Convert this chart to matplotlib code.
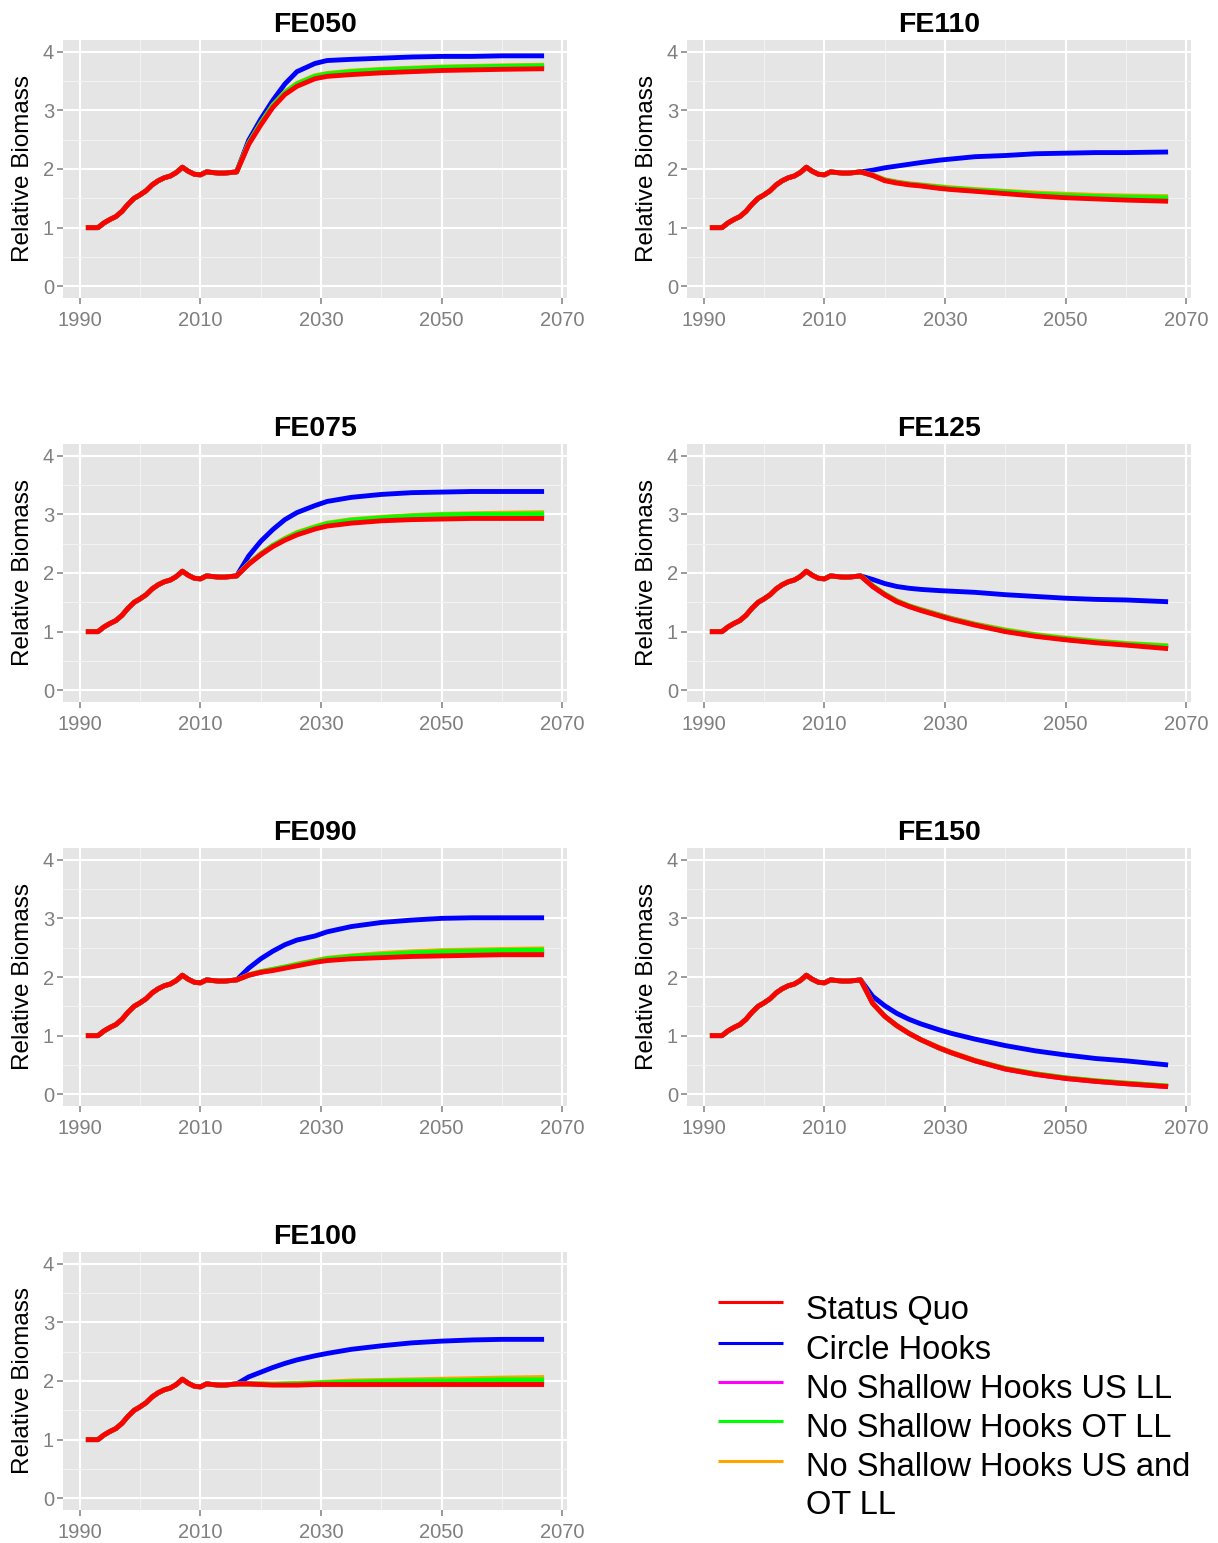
import matplotlib
matplotlib.use("Agg")
import matplotlib.pyplot as plt
from matplotlib.lines import Line2D

plt.rcParams['font.family'] = ['Liberation Sans', 'DejaVu Sans']

# ---------------- data ----------------
hist_years = list(range(1991, 2017))
hist_values = [1.00, 1.00, 1.00, 1.08, 1.14, 1.19, 1.28, 1.40, 1.50, 1.56,
               1.63, 1.73, 1.80, 1.85, 1.88, 1.94, 2.03, 1.96, 1.91, 1.90,
               1.95, 1.94, 1.93, 1.93, 1.94, 1.95]

proj_years = [2018, 2020, 2022, 2024, 2026, 2029, 2031, 2035, 2040, 2045, 2050, 2055, 2060, 2067]

scenarios = ["Status Quo", "Circle Hooks", "No Shallow Hooks US LL",
             "No Shallow Hooks OT LL", "No Shallow Hooks US and\nOT LL"]
scenario_colors = ["#FF0000", "#0000FF", "#FF00FF", "#00FF00", "#FFA500"]

panel_names = ["FE050", "FE110", "FE075", "FE125", "FE090", "FE150", "FE100"]

# FE050
fe050_sq = [2.42, 2.75, 3.05, 3.27, 3.41, 3.54, 3.58, 3.61, 3.64, 3.66, 3.68, 3.69, 3.70, 3.71]
fe050_ch = [2.49, 2.85, 3.17, 3.45, 3.66, 3.80, 3.85, 3.87, 3.89, 3.91, 3.92, 3.92, 3.93, 3.93]
fe050_us = [2.43, 2.77, 3.07, 3.29, 3.44, 3.57, 3.61, 3.64, 3.67, 3.69, 3.71, 3.72, 3.73, 3.74]
fe050_ot = [2.44, 2.78, 3.08, 3.30, 3.45, 3.58, 3.62, 3.66, 3.69, 3.71, 3.73, 3.74, 3.75, 3.76]
fe050_both = [2.44, 2.78, 3.09, 3.31, 3.46, 3.59, 3.63, 3.67, 3.70, 3.72, 3.74, 3.75, 3.76, 3.77]
# FE110
fe110_sq = [1.89, 1.80, 1.76, 1.73, 1.71, 1.67, 1.65, 1.62, 1.58, 1.54, 1.51, 1.49, 1.47, 1.45]
fe110_ch = [1.98, 2.02, 2.05, 2.08, 2.11, 2.15, 2.17, 2.21, 2.23, 2.26, 2.27, 2.28, 2.28, 2.29]
fe110_us = [1.89, 1.81, 1.77, 1.74, 1.72, 1.68, 1.66, 1.63, 1.59, 1.56, 1.53, 1.51, 1.49, 1.48]
fe110_ot = [1.89, 1.81, 1.77, 1.74, 1.72, 1.69, 1.67, 1.64, 1.61, 1.57, 1.55, 1.53, 1.52, 1.51]
fe110_both = [1.90, 1.82, 1.78, 1.75, 1.73, 1.70, 1.68, 1.65, 1.62, 1.59, 1.57, 1.55, 1.54, 1.53]
# FE075
fe075_sq = [2.15, 2.31, 2.45, 2.56, 2.65, 2.75, 2.80, 2.85, 2.89, 2.91, 2.92, 2.93, 2.93, 2.93]
fe075_ch = [2.29, 2.54, 2.74, 2.91, 3.03, 3.15, 3.22, 3.29, 3.34, 3.37, 3.38, 3.39, 3.39, 3.39]
fe075_us = [2.15, 2.32, 2.46, 2.57, 2.67, 2.77, 2.83, 2.88, 2.92, 2.94, 2.96, 2.97, 2.97, 2.98]
fe075_ot = [2.16, 2.32, 2.47, 2.58, 2.68, 2.78, 2.84, 2.90, 2.94, 2.97, 2.99, 3.00, 3.00, 3.01]
fe075_both = [2.16, 2.33, 2.47, 2.59, 2.69, 2.79, 2.85, 2.91, 2.95, 2.98, 3.00, 3.01, 3.02, 3.03]
# FE125
fe125_sq = [1.77, 1.63, 1.51, 1.43, 1.36, 1.27, 1.21, 1.11, 1.00, 0.92, 0.86, 0.81, 0.77, 0.71]
fe125_ch = [1.89, 1.82, 1.77, 1.74, 1.72, 1.70, 1.69, 1.67, 1.63, 1.60, 1.57, 1.55, 1.54, 1.51]
fe125_us = [1.77, 1.63, 1.52, 1.43, 1.37, 1.28, 1.22, 1.12, 1.01, 0.93, 0.87, 0.82, 0.78, 0.73]
fe125_ot = [1.78, 1.64, 1.52, 1.44, 1.37, 1.28, 1.22, 1.12, 1.02, 0.94, 0.88, 0.83, 0.79, 0.75]
fe125_both = [1.78, 1.64, 1.53, 1.44, 1.38, 1.29, 1.23, 1.13, 1.03, 0.95, 0.89, 0.84, 0.80, 0.76]
# FE090
fe090_sq = [2.03, 2.08, 2.11, 2.15, 2.19, 2.25, 2.28, 2.31, 2.33, 2.35, 2.36, 2.37, 2.38, 2.38]
fe090_ch = [2.15, 2.31, 2.44, 2.55, 2.63, 2.70, 2.77, 2.86, 2.93, 2.97, 3.00, 3.01, 3.01, 3.01]
fe090_us = [2.03, 2.08, 2.12, 2.16, 2.20, 2.26, 2.30, 2.33, 2.36, 2.38, 2.40, 2.41, 2.42, 2.43]
fe090_ot = [2.03, 2.09, 2.13, 2.17, 2.21, 2.27, 2.31, 2.35, 2.38, 2.41, 2.43, 2.44, 2.45, 2.46]
fe090_both = [2.04, 2.09, 2.13, 2.17, 2.22, 2.28, 2.32, 2.36, 2.40, 2.43, 2.45, 2.46, 2.47, 2.48]
# FE150
fe150_sq = [1.55, 1.33, 1.17, 1.04, 0.93, 0.79, 0.71, 0.57, 0.43, 0.34, 0.27, 0.22, 0.18, 0.13]
fe150_ch = [1.67, 1.51, 1.38, 1.28, 1.20, 1.10, 1.04, 0.94, 0.83, 0.74, 0.67, 0.61, 0.57, 0.50]
fe150_us = [1.55, 1.33, 1.17, 1.04, 0.93, 0.79, 0.71, 0.57, 0.43, 0.34, 0.27, 0.22, 0.18, 0.13]
fe150_ot = [1.55, 1.33, 1.17, 1.04, 0.93, 0.79, 0.71, 0.57, 0.44, 0.35, 0.28, 0.23, 0.19, 0.14]
fe150_both = [1.55, 1.33, 1.17, 1.04, 0.93, 0.80, 0.72, 0.58, 0.44, 0.35, 0.28, 0.23, 0.19, 0.14]
# FE100
fe100_sq = [1.95, 1.94, 1.93, 1.93, 1.93, 1.94, 1.94, 1.94, 1.94, 1.94, 1.94, 1.94, 1.94, 1.94]
fe100_ch = [2.07, 2.15, 2.23, 2.30, 2.36, 2.43, 2.47, 2.54, 2.60, 2.65, 2.68, 2.70, 2.71, 2.71]
fe100_us = [1.95, 1.94, 1.94, 1.94, 1.94, 1.95, 1.95, 1.96, 1.96, 1.97, 1.97, 1.98, 1.98, 1.99]
fe100_ot = [1.95, 1.95, 1.94, 1.95, 1.95, 1.96, 1.97, 1.98, 1.99, 2.00, 2.00, 2.01, 2.02, 2.02]
fe100_both = [1.95, 1.95, 1.95, 1.95, 1.96, 1.97, 1.98, 2.00, 2.01, 2.02, 2.03, 2.04, 2.05, 2.06]

panel_series = {
    "FE050": [fe050_sq, fe050_ch, fe050_us, fe050_ot, fe050_both],
    "FE110": [fe110_sq, fe110_ch, fe110_us, fe110_ot, fe110_both],
    "FE075": [fe075_sq, fe075_ch, fe075_us, fe075_ot, fe075_both],
    "FE125": [fe125_sq, fe125_ch, fe125_us, fe125_ot, fe125_both],
    "FE090": [fe090_sq, fe090_ch, fe090_us, fe090_ot, fe090_both],
    "FE150": [fe150_sq, fe150_ch, fe150_us, fe150_ot, fe150_both],
    "FE100": [fe100_sq, fe100_ch, fe100_us, fe100_ot, fe100_both],
}

x_ticks = [1990, 2010, 2030, 2050, 2070]
x_minor = [2000, 2020, 2040, 2060]
y_ticks = [0, 1, 2, 3, 4]
y_minor = [0.5, 1.5, 2.5, 3.5]

# ---------------- layout ----------------
W, H = 1218, 1543
fig = plt.figure(figsize=(W / 100, H / 100), dpi=100)
fig.patch.set_facecolor("white")

col_x = [63, 687]
row_top = [40, 444, 848, 1252]
ax_w, ax_h = 504, 258

draw_order = [1, 4, 2, 3, 0]  # blue, orange, magenta, green, red on top
grey = "#7F7F7F"

for i, name in enumerate(panel_names):
    r, c = divmod(i, 2)
    left = col_x[c] / W
    bottom = 1 - (row_top[r] + ax_h) / H
    ax = fig.add_axes([left, bottom, ax_w / W, ax_h / H])
    ax.set_facecolor("#E5E5E5")
    for s in ax.spines.values():
        s.set_visible(False)
    ax.set_xlim(1987.2, 2070.8)
    ax.set_ylim(-0.2, 4.2)
    ax.set_xticks(x_ticks)
    ax.set_xticks(x_minor, minor=True)
    ax.set_yticks(y_ticks)
    ax.set_yticks(y_minor, minor=True)
    ax.grid(which="major", color="white", linewidth=1.5)
    ax.grid(which="minor", color="#F2F2F2", linewidth=0.8)
    ax.set_axisbelow(True)
    ax.tick_params(which="major", length=4, width=1.1, color=grey,
                   labelcolor=grey, labelsize=14.5)
    ax.tick_params(axis="x", which="major", pad=5)
    ax.tick_params(axis="y", which="major", pad=2.5)
    ax.tick_params(which="minor", length=0)
    ax.set_ylabel("Relative Biomass", fontsize=17.5, color="black")
    ax.yaxis.set_label_coords(-0.058, 0.5)
    ax.set_title(name, fontsize=20.5, fontweight="bold", pad=6)

    series = panel_series[name]
    for k in draw_order:
        xs = hist_years + proj_years
        ys = hist_values + series[k]
        ax.plot(xs, ys, color=scenario_colors[k], linewidth=3.5,
                solid_capstyle="butt", solid_joinstyle="round")

# ---------------- legend ----------------
leg_line_y = [1302, 1343, 1382, 1421, 1461]
leg_text_top = [1307, 1347, 1386, 1425, 1464]
for k in range(5):
    yf = 1 - leg_line_y[k] / H
    fig.add_artist(Line2D([718 / W, 783 / W], [yf, yf], transform=fig.transFigure,
                          color=scenario_colors[k], linewidth=2.2,
                          solid_capstyle="butt"))
    fig.text(806 / W, 1 - (leg_text_top[k] - 12) / H, scenarios[k], fontsize=23.5,
             va="top", ha="left", color="black", linespacing=1.28)

fig.savefig("out.png", dpi=100, facecolor="white")
